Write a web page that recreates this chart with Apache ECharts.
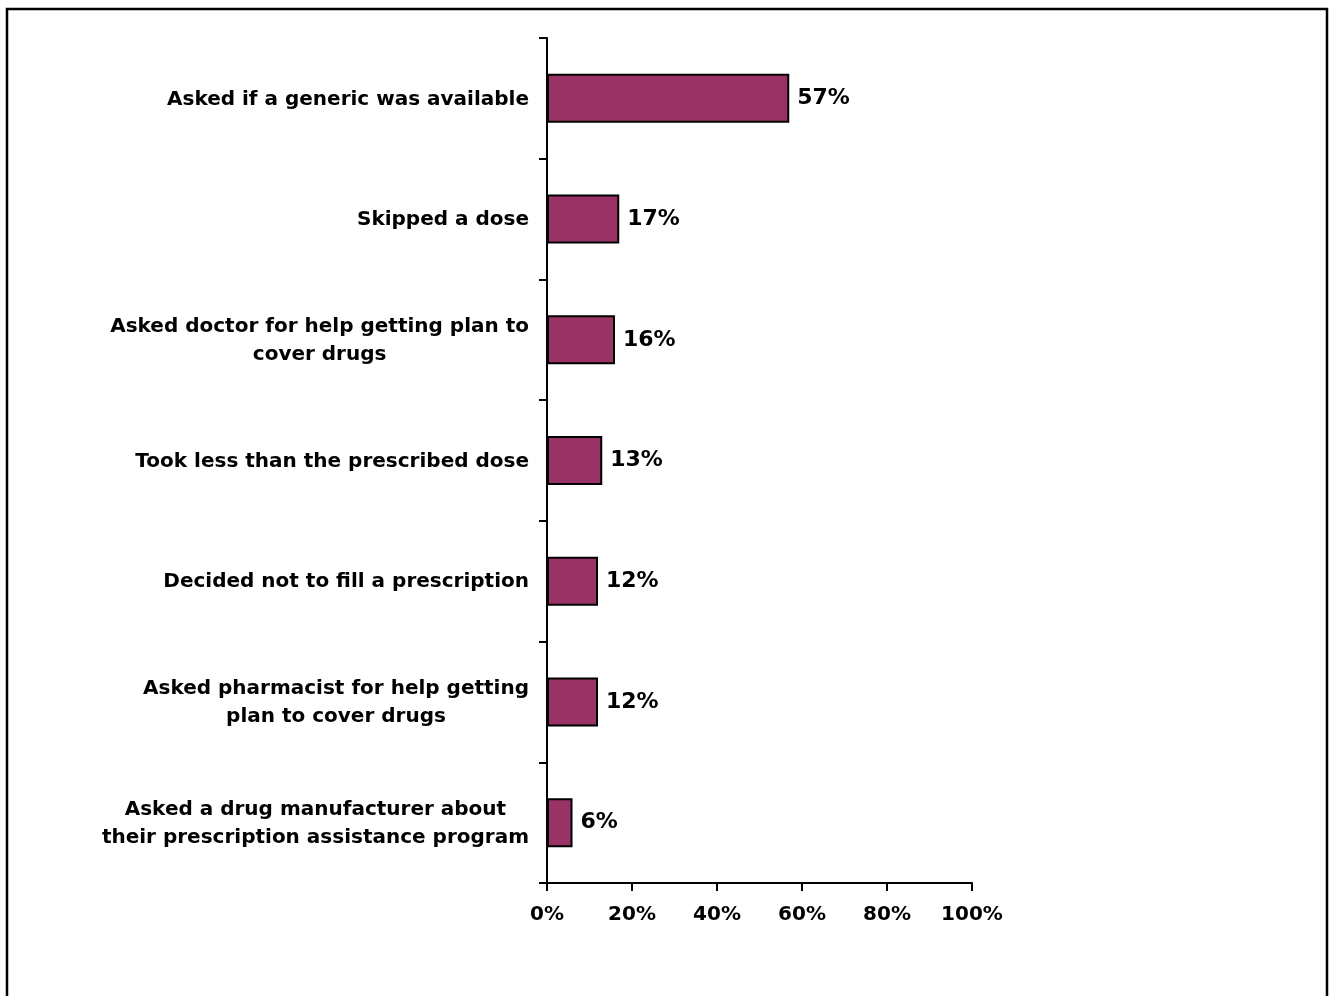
<!DOCTYPE html>
<html>
<head>
<meta charset="utf-8">
<script src="https://cdn.jsdelivr.net/npm/echarts@6/dist/echarts.min.js"></script>
<style>
html,body{margin:0;padding:0;background:#fff;}
#chart{width:1331px;height:996px;}
</style>
</head>
<body>
<div id="chart"></div>
<script>
var categories = [
  "Asked if a generic was available",
  "Skipped a dose",
  "Asked doctor for help getting plan to\ncover drugs",
  "Took less than the prescribed dose",
  "Decided not to fill a prescription",
  "Asked pharmacist for help getting\nplan to cover drugs",
  "Asked a drug manufacturer about\ntheir prescription assistance program"
];
var values = [57, 17, 16, 13, 12, 12, 6];
var xTicks = [0, 20, 40, 60, 80, 100];

var FONT = '"DejaVu Sans", Verdana, sans-serif';
var chart = echarts.init(document.getElementById('chart'), null, {renderer: 'canvas'});
chart.setOption({
  animation: false,
  backgroundColor: '#ffffff',
  graphic: [{
    type: 'rect',
    shape: {x: 7, y: 9, width: 1320, height: 1010},
    style: {fill: 'none', stroke: '#000', lineWidth: 2.5},
    silent: true
  }],
  grid: {left: 547, right: 359, top: 38, bottom: 113, containLabel: false},
  xAxis: {
    type: 'value',
    min: xTicks[0],
    max: xTicks[xTicks.length - 1],
    interval: 20,
    splitLine: {show: false},
    axisLine: {show: true, lineStyle: {color: '#000', width: 2}},
    axisTick: {show: true, length: 8, lineStyle: {color: '#000', width: 2}},
    axisLabel: {
      formatter: function (v) { return v + '%'; },
      color: '#000', fontFamily: FONT, fontWeight: 'bold', fontSize: 20, margin: 22
    }
  },
  yAxis: {
    type: 'category',
    data: categories,
    inverse: true,
    axisLine: {show: true, lineStyle: {color: '#000', width: 2}},
    axisTick: {show: true, length: 8, lineStyle: {color: '#000', width: 2}},
    axisLabel: {
      color: '#000', fontFamily: FONT, fontWeight: 'bold', fontSize: 20, margin: 18,
      align: 'right',
      formatter: function (v) {
        return v.split('\n').map(function (l) { return '{c|' + l + '}'; }).join('\n');
      },
      rich: {c: {align: 'center', color: '#000', fontFamily: FONT, fontWeight: 'bold', fontSize: 20, lineHeight: 28, padding: [2, 0, 0, 0]}}
    }
  },
  series: [{
    type: 'bar',
    data: values,
    barWidth: 49,
    itemStyle: {color: '#993366', borderColor: '#000', borderWidth: 2},
    label: {
      show: true, position: 'right', distance: 8,
      formatter: '{c}%',
      color: '#000', fontFamily: FONT, fontWeight: 'bold', fontSize: 22
    }
  }]
});
</script>
</body>
</html>
